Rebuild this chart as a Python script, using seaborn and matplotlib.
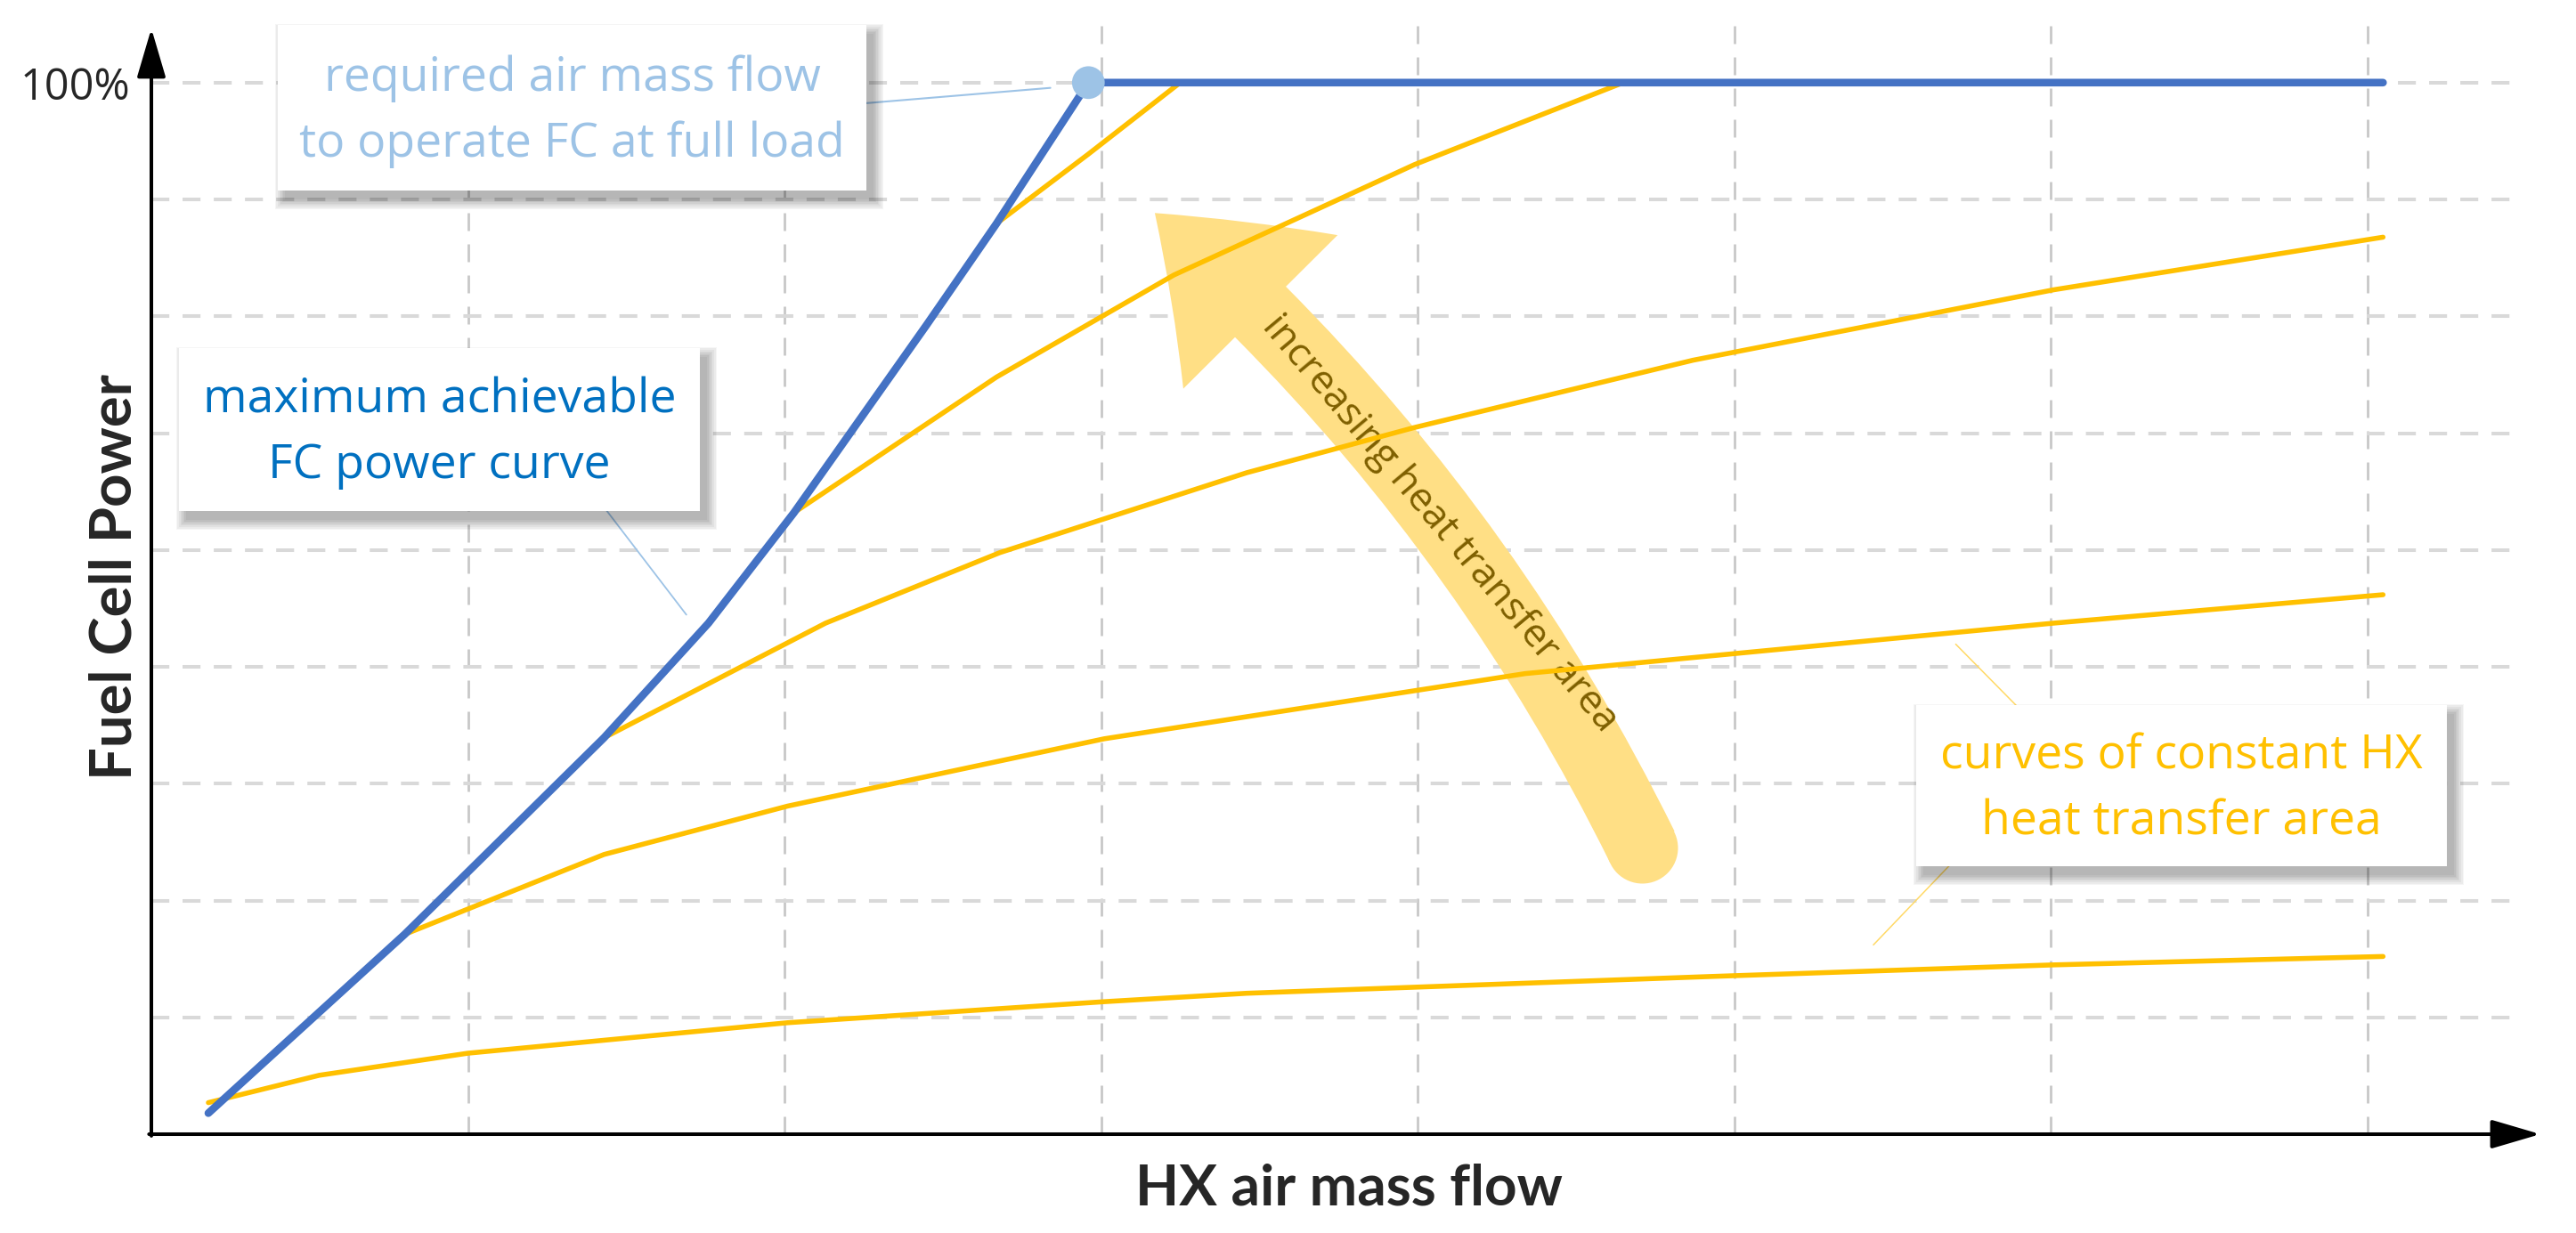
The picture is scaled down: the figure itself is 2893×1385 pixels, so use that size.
import numpy as np
import pandas as pd
import matplotlib
matplotlib.use("Agg")
import matplotlib.pyplot as plt
import seaborn as sns
from matplotlib.patches import Rectangle, FancyArrowPatch

# HX air mass flow (grid units) vs fuel cell power (% of full load)
max_power_x = [0.18, 0.80, 1.43, 1.76, 2.03, 2.45, 2.67, 2.96, 7.05]
max_power_y = [2.0, 19.0, 37.7, 48.6, 59.1, 77.0, 86.6, 100.0, 100.0]

# curves of constant HX heat transfer area, smallest to largest
area1_x = [0.18, 0.53, 1.00, 2.01, 3.01, 3.46, 4.93, 6.01, 7.05]
area1_y = [3.0, 5.6, 7.7, 10.6, 12.6, 13.4, 15.0, 16.1, 16.9]
area2_x = [0.80, 1.43, 2.01, 3.01, 3.46, 4.34, 6.01, 7.05]
area2_y = [19.0, 26.6, 31.2, 37.6, 39.7, 43.8, 48.6, 51.3]
area3_x = [1.43, 2.13, 2.68, 3.46, 3.99, 4.87, 6.01, 7.05]
area3_y = [37.7, 48.6, 55.3, 62.9, 67.2, 73.6, 80.3, 85.3]
area4_x = [2.03, 2.67, 3.23, 3.99, 4.65]
area4_y = [59.1, 72.0, 81.7, 92.2, 100.0]
area5_x = [2.67, 2.96, 3.25]
area5_y = [86.6, 93.2, 100.0]

full_load_x = [2.96]
full_load_y = [100.0]

grid_x = [1, 2, 3, 4, 5, 6, 7]
grid_y = [100 / 9 * k for k in range(1, 10)]

BLUE = "#4472C4"
ORANGE = "#FFC000"
W, H = 2893, 1385

sns.set_style("white")
plt.rcParams["font.family"] = ["Open Sans", "DejaVu Sans"]

fig = plt.figure(figsize=(W / 100, H / 100), dpi=100)
ax = fig.add_axes([170 / W, 111 / H, 2648.5 / W, 1245 / H])

areas = pd.DataFrame({
    "flow": area1_x + area2_x + area3_x + area4_x + area5_x,
    "power": area1_y + area2_y + area3_y + area4_y + area5_y,
    "curve": (["A1"] * len(area1_x) + ["A2"] * len(area2_x) + ["A3"] * len(area3_x)
              + ["A4"] * len(area4_x) + ["A5"] * len(area5_x)),
})

# big "increasing heat transfer area" arrow
arrow = FancyArrowPatch((4.71, 27.3), (3.17, 87.6),
                        arrowstyle="simple,head_length=117,head_width=176,tail_width=58",
                        connectionstyle="arc3,rad=0.1", mutation_scale=1,
                        shrinkA=0, shrinkB=0, color="#FFDF85", lw=0, zorder=2)
ax.add_patch(arrow)
ax.plot([4.71], [27.3], "o", ms=57.6, color="#FFDF85", mec="none", zorder=2)
ax.text(4.07, 58.1, "increasing heat transfer area", rotation=-50, rotation_mode="anchor",
        ha="center", va="center", fontsize=32, color="#7F6000", zorder=3)

sns.lineplot(data=areas, x="flow", y="power", hue="curve", units="curve",
             palette={c: ORANGE for c in ["A1", "A2", "A3", "A4", "A5"]},
             estimator=None, sort=False, legend=False, lw=4.0, ax=ax, zorder=4)
sns.lineplot(x=max_power_x, y=max_power_y, color=BLUE, lw=6.2, sort=False,
             estimator=None, ax=ax, zorder=5, solid_capstyle="round")
sns.scatterplot(x=full_load_x, y=full_load_y, s=700, color="#9DC3E6",
                edgecolor="none", ax=ax, zorder=6)

# leader lines
ax.plot([2.16, 2.84], [97.8, 99.5], color="#9DC3E6", lw=1.5, zorder=6)
ax.plot([1.40, 1.69], [60.8, 49.4], color="#9DC3E6", lw=1.3, zorder=6)
ax.plot([5.90, 5.70], [40.5, 46.6], color="#FFD966", lw=1.1, zorder=6)
ax.plot([5.72, 5.44], [26.8, 18.0], color="#FFD966", lw=1.1, zorder=6)

ax.set_xlim(0, 7.45)
ax.set_ylim(0, 105.4)
ax.set_xticks(grid_x)
ax.set_xticklabels([""] * len(grid_x))
ax.set_yticks(grid_y)
ax.set_yticklabels([""] * 8 + ["100%"], fontsize=35)
ax.tick_params(length=0, pad=17)
ax.set_xlabel("")
ax.set_ylabel("")
ax.xaxis.grid(True, color="#C8C8C8", lw=2.0, linestyle=(0, (7.2, 5.4)))
ax.yaxis.grid(True, color="#D9D9D9", lw=2.9, linestyle=(0, (5.0, 3.7)))
ax.set_axisbelow(True)
for s in ax.spines.values():
    s.set_visible(False)

arrow_kw = dict(arrowstyle="-|>,head_length=3.4,head_width=1.0", mutation_scale=10,
                lw=2.9, color="black", shrinkA=0, shrinkB=0)
ax.annotate("", xy=(1.013, 0), xytext=(-0.001, 0), xycoords="axes fraction",
            arrowprops=arrow_kw, annotation_clip=False)
ax.annotate("", xy=(0, 0.9976), xytext=(0, -0.0015), xycoords="axes fraction",
            arrowprops=arrow_kw, annotation_clip=False)

fig.text(1515 / W, (H - 1354) / H, "HX air mass flow", ha="center", va="baseline",
         fontsize=46, fontweight="bold", family=["Lato", "DejaVu Sans"])
fig.text(147 / W, (H - 648) / H, "Fuel Cell Power", rotation=90, rotation_mode="anchor",
         ha="center", va="baseline", fontsize=47, fontweight="bold",
         family=["Lato", "DejaVu Sans"])


def note_box(x0, y0, x1, y1, text, color):
    for k in range(8):
        g = k * 1.6
        fig.add_artist(Rectangle(((x0 + 8 - g) / W, (H - y1 - 10 - g) / H),
                                 (x1 - x0 + 2 * g) / W, (y1 - y0 + 2 * g) / H,
                                 transform=fig.transFigure, fc="black", ec="none",
                                 alpha=0.04, zorder=3))
    fig.add_artist(Rectangle((x0 / W, (H - y1) / H), (x1 - x0) / W, (y1 - y0) / H,
                             transform=fig.transFigure, fc="white", ec="none", zorder=4))
    fig.text((x0 + x1) / 2 / W, (H - (y0 + y1) / 2 - 4) / H, text, ha="center", va="center",
             multialignment="center", fontsize=38.5, color=color, linespacing=1.5, zorder=5)


note_box(312, 28, 973, 214, "required air mass flow\nto operate FC at full load", "#9DC3E6")
note_box(201, 391, 786, 574, "maximum achievable\nFC power curve", "#0070C0")
note_box(2152, 792, 2748, 973, "curves of constant HX\nheat transfer area", ORANGE)

fig.savefig("out.png", dpi=100, facecolor="white")
